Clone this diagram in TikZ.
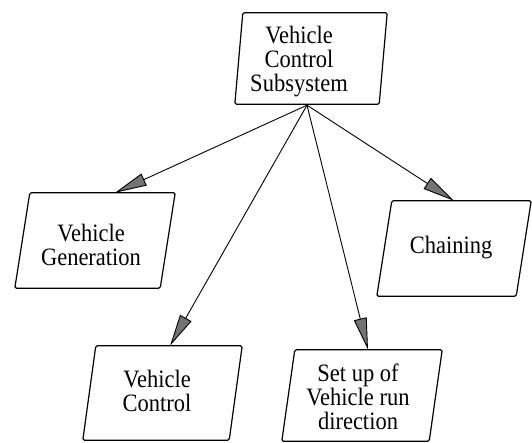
\documentclass[tikz,border=0pt]{standalone}
\usepackage{fontspec}
\setmainfont{Liberation Serif}[FakeStretch=0.9]
\usetikzlibrary{arrows.meta}
\tikzset{
  frame/.style={draw=none, inner sep=0pt},
  label/.style={align=center, inner sep=0pt, font=\fontsize{25}{24}\selectfont},
  boxline/.style={draw=black, line width=1.2pt, rounded corners=1.5pt},
  link/.style={draw=black, line width=0.9pt,
    -{Triangle[length=32pt,width=13pt,fill=black!55]}},
}
% slanted box drawn over the frame node #1 with horizontal offset #2
\newcommand\slantbox[2]{%
  \draw[boxline] ([xshift=#2]#1.north west) -- (#1.north east)
    -- ([xshift=-#2]#1.south east) -- (#1.south west) -- cycle;}
\begin{document}
\begin{tikzpicture}[x=1pt,y=1pt]
\useasboundingbox (0,0) rectangle (532,443);

% box frames
\node[frame, minimum width=152pt, minimum height=91pt] (sub)   at (311,384.5) {};
\node[frame, minimum width=160pt, minimum height=95pt] (gen)   at (95,202.5)  {};
\node[frame, minimum width=154pt, minimum height=95pt] (chain) at (454,194.5)  {};
\node[frame, minimum width=159pt, minimum height=94pt] (vc)    at (162.5,50)  {};
\node[frame, minimum width=160pt, minimum height=91pt] (setup) at (362,47.5)  {};

\slantbox{sub}{8pt}
\slantbox{gen}{15pt}
\slantbox{chain}{15pt}
\slantbox{vc}{13pt}
\slantbox{setup}{13pt}

% labels
\node[label] (subtext)   at (299,381) {Vehicle\\Control\\Subsystem};
\node[label] (gentext)   at (91,198)  {Vehicle\\Generation};
\node[label] (chaintext) at (451,195) {Chaining};
\node[label] (vctext)    at (157,52)  {Vehicle\\Control};
\node[label] (setuptext) at (358,46)  {Set up of\\Vehicle run\\direction};

% connectors
\coordinate (hub) at ([xshift=-4pt,yshift=-1pt]sub.south);
\draw[link] (hub) -- ([xshift=20pt]gen.north);
\draw[link] (hub) -- ([xshift=7.5pt]vc.north);
\draw[link] (hub) -- ([xshift=6pt]setup.north);
\draw[link] (hub) -- (chain.north);
\end{tikzpicture}
\end{document}
